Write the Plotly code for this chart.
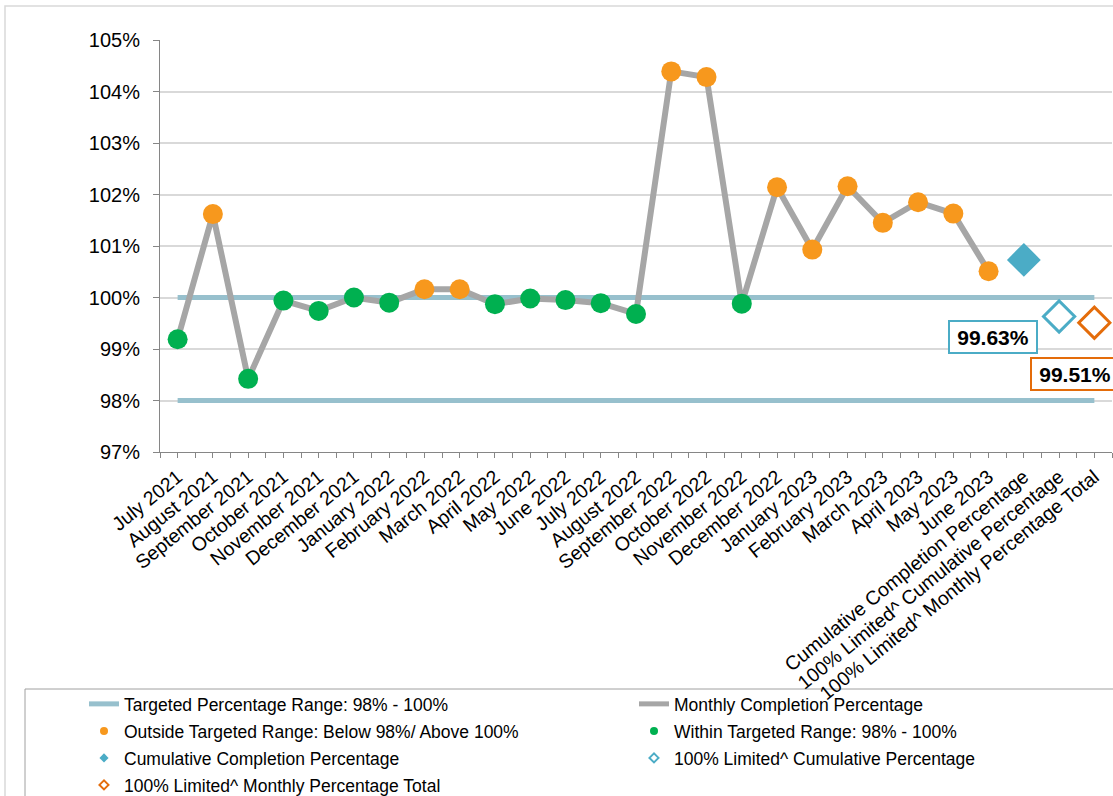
import plotly.graph_objects as go

# ---------------- data ----------------
months = ["July 2021", "August 2021", "September 2021", "October 2021", "November 2021",
          "December 2021", "January 2022", "February 2022", "March 2022", "April 2022",
          "May 2022", "June 2022", "July 2022", "August 2022", "September 2022",
          "October 2022", "November 2022", "December 2022", "January 2023", "February 2023",
          "March 2023", "April 2023", "May 2023", "June 2023"]
summary_labels = ["Cumulative Completion Percentage",
                  "100% Limited^ Cumulative Percentage",
                  "100% Limited^ Monthly Percentage Total"]
categories = months + summary_labels

monthly_pct = [99.19, 101.62, 98.42, 99.94, 99.74, 100.00, 99.90, 100.16, 100.16, 99.87,
               99.98, 99.95, 99.89, 99.68, 104.39, 104.28, 99.88, 102.14, 100.93, 102.16,
               101.45, 101.85, 101.63, 100.51]
cumulative_pct = 100.73
limited_cumulative_pct = 99.63
limited_monthly_total_pct = 99.51
target_low = 98
target_high = 100

# ---------------- layout constants ----------------
W, H = 1113, 796
L, R, T, B = 160, 1, 40, 344
plot_w = W - L - R
plot_h = H - T - B
FONT = "Liberation Sans, Arial, sans-serif"

ORANGE = "#F7981D"
GREEN = "#00B050"
GRAY = "#A6A6A6"
TEAL = "#97C0CD"
BLUE = "#4BACC6"
DKORANGE = "#E46C0A"


def px_x(px):
    return (px - L) / plot_w


def px_y(py):
    return (H - B - py) / plot_h


idx = list(range(len(categories)))
month_idx = idx[:len(months)]

fig = go.Figure()

# target range lines
for val in (target_low, target_high):
    fig.add_trace(go.Scatter(x=[idx[0], idx[-1]], y=[val, val], mode="lines",
                             line=dict(color=TEAL, width=5), showlegend=False,
                             hoverinfo="skip"))

# monthly line
fig.add_trace(go.Scatter(x=month_idx, y=monthly_pct, mode="lines",
                         line=dict(color=GRAY, width=6), showlegend=False))

out_x = [i for i, v in zip(month_idx, monthly_pct) if v < target_low or v > target_high]
out_y = [v for v in monthly_pct if v < target_low or v > target_high]
in_x = [i for i, v in zip(month_idx, monthly_pct) if target_low <= v <= target_high]
in_y = [v for v in monthly_pct if target_low <= v <= target_high]

fig.add_trace(go.Scatter(x=out_x, y=out_y, mode="markers",
                         marker=dict(color=ORANGE, size=20), showlegend=False))
fig.add_trace(go.Scatter(x=in_x, y=in_y, mode="markers",
                         marker=dict(color=GREEN, size=20), showlegend=False))

# summary diamonds
fig.add_trace(go.Scatter(x=[idx[-3]], y=[cumulative_pct], mode="markers",
                         marker=dict(symbol="diamond", color=BLUE, size=26), showlegend=False))
fig.add_trace(go.Scatter(x=[idx[-2]], y=[limited_cumulative_pct], mode="markers",
                         marker=dict(symbol="diamond", color="white", size=24,
                                     line=dict(color=BLUE, width=3)), showlegend=False))
fig.add_trace(go.Scatter(x=[idx[-1]], y=[limited_monthly_total_pct], mode="markers",
                         marker=dict(symbol="diamond", color="white", size=24,
                                     line=dict(color=DKORANGE, width=3)), showlegend=False))

# ---------------- legend entries (one legend per entry for exact placement) -------------
legend_items = [
    ("Targeted Percentage Range: 98% - 100%", dict(mode="lines", line=dict(color=TEAL, width=5))),
    ("Monthly Completion Percentage", dict(mode="lines", line=dict(color=GRAY, width=5))),
    ("Outside Targeted Range: Below 98%/ Above 100%", dict(mode="markers", marker=dict(color=ORANGE, size=8))),
    ("Within Targeted Range: 98% - 100%", dict(mode="markers", marker=dict(color=GREEN, size=8))),
    ("Cumulative Completion Percentage", dict(mode="markers", marker=dict(symbol="diamond", color=BLUE, size=7))),
    ("100% Limited^ Cumulative Percentage", dict(mode="markers", marker=dict(symbol="diamond", color="white", size=7, line=dict(color=BLUE, width=2)))),
    ("100% Limited^ Monthly Percentage Total", dict(mode="markers", marker=dict(symbol="diamond", color="white", size=7, line=dict(color=DKORANGE, width=2)))),
]
col_px = [84, 634]
row_px = [704, 731, 758, 785]
legend_layouts = {}
for k, (name, style) in enumerate(legend_items):
    lname = "legend" if k == 0 else f"legend{k + 1}"
    fig.add_trace(go.Scatter(x=[None], y=[None], name=name, legend=lname, showlegend=True, **style))
    legend_layouts[lname] = dict(
        x=px_x(col_px[k % 2]), y=px_y(row_px[k // 2]), xanchor="left", yanchor="middle",
        bgcolor="rgba(0,0,0,0)", borderwidth=0,
        font=dict(family=FONT, size=17.5, color="#000000"), itemclick=False,
    )

# ---------------- annotations ----------------
fig.add_annotation(x=idx[-2], y=limited_cumulative_pct, xref="x", yref="y",
                   text="<b>" + f"{limited_cumulative_pct:.2f}%" + "</b>", showarrow=False,
                   xanchor="right", yanchor="top", xshift=-21, yshift=-3,
                   font=dict(family=FONT, size=21, color="#000000"),
                   bordercolor=BLUE, borderwidth=2, borderpad=3, bgcolor="white",
                   width=80, height=24)
fig.add_annotation(x=idx[-1], y=limited_monthly_total_pct, xref="x", yref="y",
                   text="<b>" + f"{limited_monthly_total_pct:.2f}%" + "</b>", showarrow=False,
                   xanchor="left", yanchor="top", xshift=-64, yshift=-34,
                   font=dict(family=FONT, size=21, color="#000000"),
                   bordercolor=DKORANGE, borderwidth=2, borderpad=3, bgcolor="white",
                   width=80, height=24)

# ---------------- shapes: outer border and legend box ----------------
fig.add_shape(type="rect", xref="paper", yref="paper",
              x0=px_x(5), x1=px_x(1125), y0=px_y(6), y1=px_y(810),
              line=dict(color="#D9D9D9", width=1.5), layer="below")
fig.add_shape(type="rect", xref="paper", yref="paper",
              x0=px_x(25), x1=px_x(1125), y0=px_y(689), y1=px_y(810),
              line=dict(color="#A0A0A0", width=1), layer="below")

fig.update_layout(
    width=W, height=H, autosize=False,
    margin=dict(l=L, r=R, t=T, b=B, pad=0, autoexpand=False),
    paper_bgcolor="white", plot_bgcolor="white",
    font=dict(family=FONT, color="#000000"),
    hovermode=False,
    **legend_layouts,
)
fig.update_xaxes(range=[-0.5, len(categories) - 0.5], tickmode="array", tickvals=idx,
                 ticktext=categories, tickangle=-39, showgrid=False, zeroline=False,
                 showline=True, linecolor="#868686", linewidth=1,
                 ticks="outside", ticklen=5, tickcolor="#868686",
                 minor=dict(tickmode="linear", tick0=0.5, dtick=1, ticks="outside",
                            ticklen=5, tickcolor="#868686"),
                 tickfont=dict(family=FONT, size=19.5, color="#000000"))
fig.update_yaxes(range=[97, 105], dtick=1, ticksuffix="%", showgrid=True,
                 gridcolor="#D9D9D9", gridwidth=1.5, zeroline=False,
                 showline=True, linecolor="#868686", linewidth=1,
                 ticks="outside", ticklen=6, tickcolor="#868686", ticklabelstandoff=9,
                 tickfont=dict(family=FONT, size=20, color="#000000"))

fig.write_html("out.html")
